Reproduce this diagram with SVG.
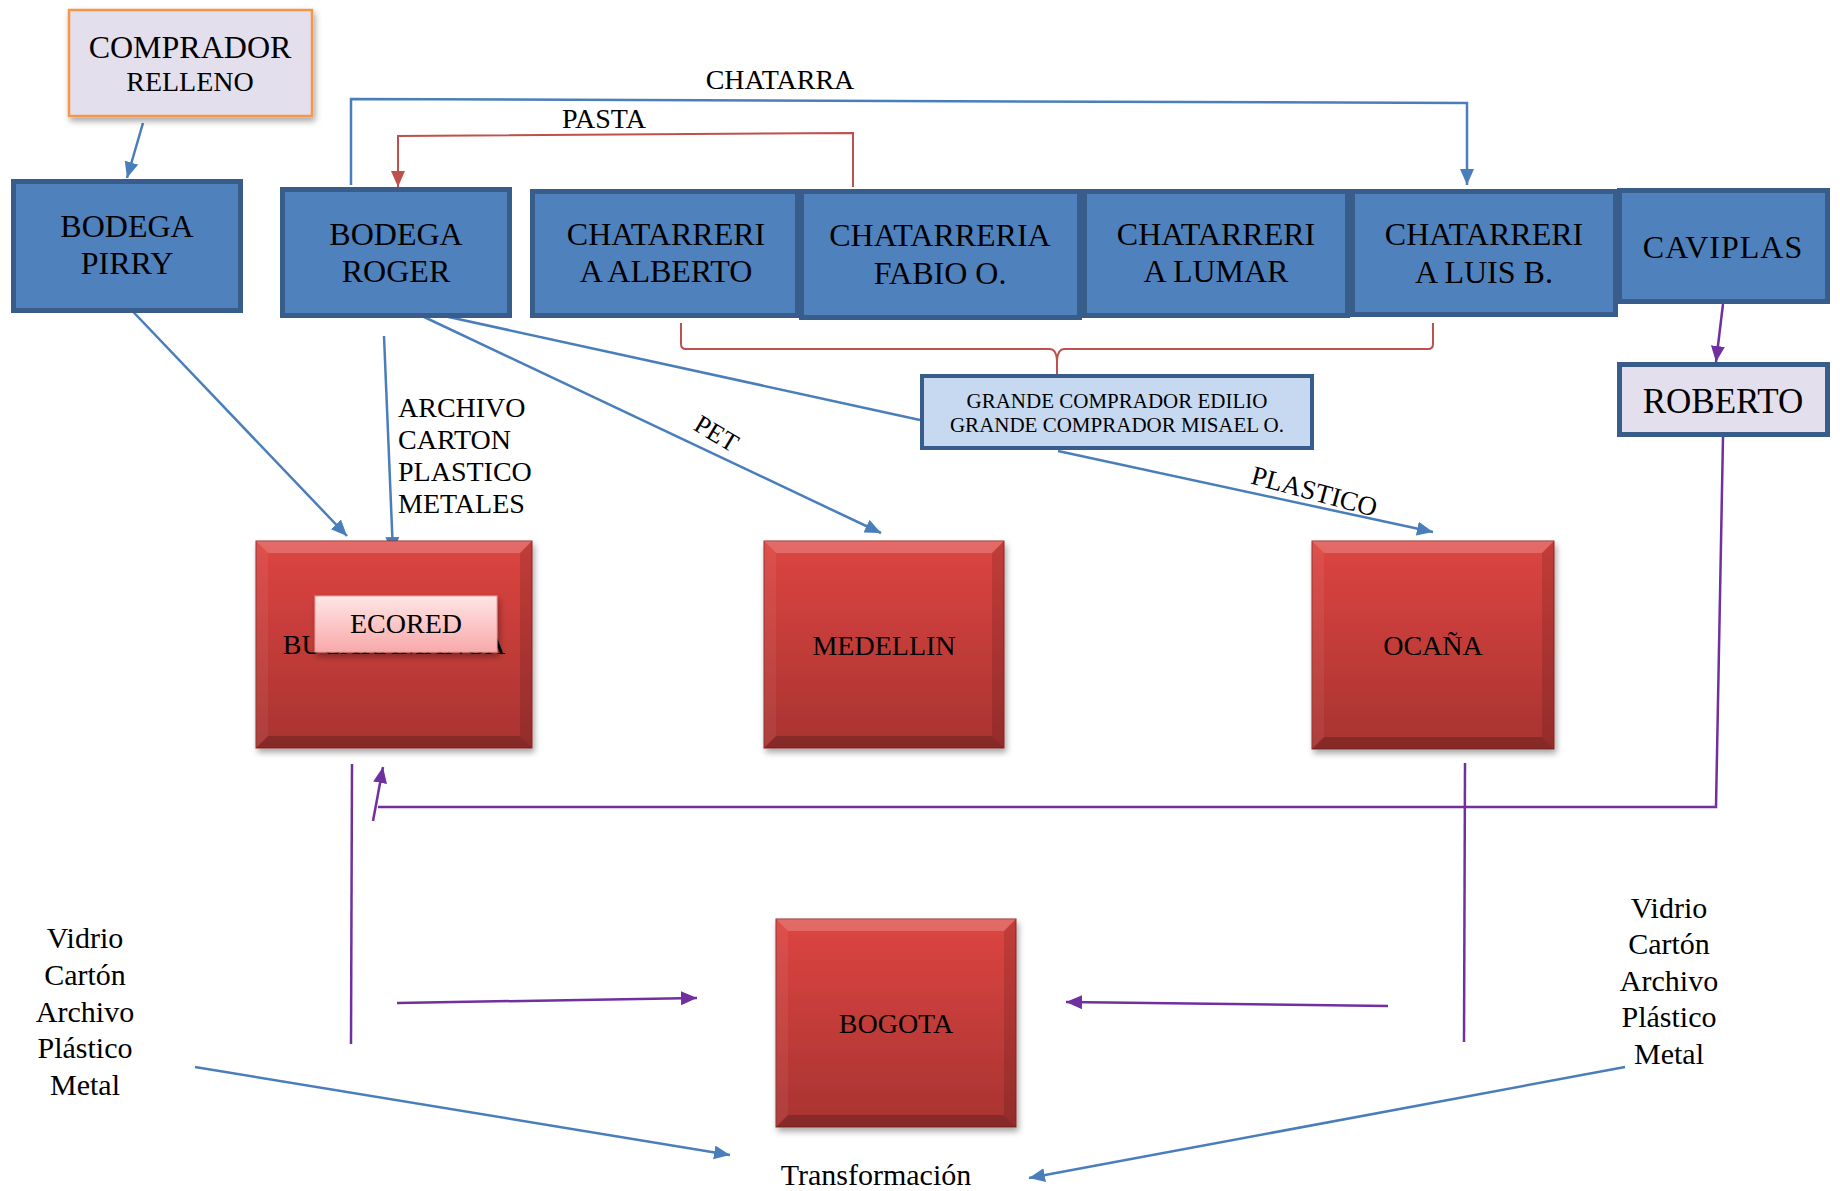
<svg xmlns="http://www.w3.org/2000/svg" width="1840" height="1191" viewBox="0 0 1840 1191">
<defs>
  <style>
    .t { font-family: "Liberation Serif", "Times New Roman", serif; fill: #000; }
    .c { text-anchor: middle; }
    .blue { fill: #4f81bd; stroke: #385d8a; stroke-width: 5; }
    .lb { fill: none; stroke: #4a7ebb; stroke-width: 2.5; }
    .lr { fill: none; stroke: #c0504d; stroke-width: 2; }
    .lp { fill: none; stroke: #7030a0; stroke-width: 2.5; }
    .hl { fill: #ffffff; }
    .dk { fill: #000000; }
  </style>
  <marker id="ab" markerUnits="userSpaceOnUse" markerWidth="18" markerHeight="16" refX="16" refY="7" orient="auto">
    <path d="M0,0 L16,7 L0,14 z" fill="#4a7ebb"/>
  </marker>
  <marker id="ar" markerUnits="userSpaceOnUse" markerWidth="18" markerHeight="16" refX="16" refY="7" orient="auto">
    <path d="M0,0 L16,7 L0,14 z" fill="#c0504d"/>
  </marker>
  <marker id="ap" markerUnits="userSpaceOnUse" markerWidth="18" markerHeight="16" refX="16" refY="7" orient="auto">
    <path d="M0,0 L16,7 L0,14 z" fill="#7030a0"/>
  </marker>
  <linearGradient id="redGrad" x1="0" y1="0" x2="0" y2="1">
    <stop offset="0" stop-color="#dd4541"/>
    <stop offset="1" stop-color="#a83331"/>
  </linearGradient>
  <linearGradient id="pinkGrad" x1="0" y1="0" x2="0" y2="1">
    <stop offset="0" stop-color="#fee6e6"/>
    <stop offset="1" stop-color="#f8a9a9"/>
  </linearGradient>
  <filter id="sh" x="-10%" y="-10%" width="130%" height="130%">
    <feDropShadow dx="2" dy="4" stdDeviation="3" flood-color="#000" flood-opacity="0.35"/>
  </filter>
</defs>
<rect width="1840" height="1191" fill="#ffffff"/>

<!-- connectors -->
<g id="connectors">
  <line class="lb" x1="143" y1="123" x2="127" y2="178" marker-end="url(#ab)"/>
  <polyline class="lb" points="351,185 351,99 1467,103 1467,185" marker-end="url(#ab)"/>
  <polyline class="lr" points="853,187 853,133 398,136 398,187" marker-end="url(#ar)"/>
  <path class="lr" d="M681,323 L681,344 Q681,349 686,349 L1050,349 Q1056,349 1057,360 L1057,376 M1057,360 Q1058,349 1064,349 L1428,349 Q1433,349 1433,344 L1433,323"/>
  <line class="lb" x1="120" y1="298" x2="347" y2="536" marker-end="url(#ab)"/>
  <line class="lb" x1="384" y1="336" x2="393" y2="553" marker-end="url(#ab)"/>
  <line class="lb" x1="403" y1="307" x2="881" y2="533" marker-end="url(#ab)"/>
  <line class="lb" x1="403" y1="307" x2="920" y2="420"/>
  <line class="lb" x1="1058" y1="451" x2="1433" y2="532" marker-end="url(#ab)"/>
  <line class="lp" x1="1723" y1="304" x2="1716" y2="362" marker-end="url(#ap)"/>
  <polyline class="lp" points="1723,437 1716,807 378,807"/>
  <line class="lp" x1="373" y1="821" x2="383" y2="767" marker-end="url(#ap)"/>
  <line class="lp" x1="352" y1="764" x2="351" y2="1044"/>
  <line class="lp" x1="1465" y1="763" x2="1464" y2="1042"/>
  <line class="lp" x1="397" y1="1003" x2="697" y2="998" marker-end="url(#ap)"/>
  <line class="lp" x1="1388" y1="1006" x2="1066" y2="1002" marker-end="url(#ap)"/>
  <line class="lb" x1="195" y1="1067" x2="730" y2="1155" marker-end="url(#ab)"/>
  <line class="lb" x1="1625" y1="1067" x2="1029" y2="1178" marker-end="url(#ab)"/>
  <text class="t c" x="780" y="89" font-size="28">CHATARRA</text>
  <text class="t c" x="604" y="128" font-size="28">PASTA</text>
  <text class="t" x="398" y="417" font-size="28">ARCHIVO</text>
  <text class="t" x="398" y="449" font-size="28">CARTON</text>
  <text class="t" x="398" y="481" font-size="28">PLASTICO</text>
  <text class="t" x="398" y="513" font-size="28">METALES</text>
  <text class="t c" x="0" y="0" font-size="26" transform="translate(712,441) rotate(31)">PET</text>
  <text class="t c" x="0" y="0" font-size="27" transform="translate(1312,500) rotate(15)">PLASTICO</text>
</g>

<g id="comprador-relleno">
  <rect x="69" y="10" width="243" height="106" fill="#e4dfec" stroke="#f79646" stroke-width="2.5" filter="url(#sh)"/>
  <text class="t c" x="190" y="58" font-size="32">COMPRADOR</text>
  <text class="t c" x="190" y="91" font-size="28">RELLENO</text>
</g>

<g id="bodega-pirry">
  <rect class="blue" x="13.5" y="181.5" width="227" height="129"/>
  <text class="t c" x="127" y="237" font-size="32">BODEGA</text>
  <text class="t c" x="127" y="274" font-size="32">PIRRY</text>
</g>

<g id="bodega-roger">
  <rect class="blue" x="282.5" y="189.5" width="227" height="126"/>
  <text class="t c" x="396" y="245" font-size="32">BODEGA</text>
  <text class="t c" x="396" y="282" font-size="32">ROGER</text>
</g>

<g id="chatarreria-alberto">
  <rect class="blue" x="532.5" y="191.5" width="265" height="124"/>
  <text class="t c" x="666" y="245" font-size="32">CHATARRERI</text>
  <text class="t c" x="666" y="282" font-size="32">A ALBERTO</text>
</g>

<g id="chatarreria-lumar">
  <rect class="blue" x="1084.5" y="191.5" width="263" height="124"/>
  <text class="t c" x="1216" y="245" font-size="32">CHATARRERI</text>
  <text class="t c" x="1216" y="282" font-size="32">A LUMAR</text>
</g>

<g id="chatarreria-luis">
  <rect class="blue" x="1352.5" y="191.5" width="263" height="123"/>
  <text class="t c" x="1484" y="245" font-size="32">CHATARRERI</text>
  <text class="t c" x="1484" y="283" font-size="32">A LUIS B.</text>
</g>

<g id="chatarreria-fabio">
  <rect class="blue" x="801.5" y="191.5" width="278" height="126"/>
  <text class="t c" x="940" y="246" font-size="32">CHATARRERIA</text>
  <text class="t c" x="940" y="284" font-size="32">FABIO O.</text>
</g>

<g id="caviplas">
  <rect class="blue" x="1619.5" y="190.5" width="208" height="111"/>
  <text class="t c" x="1723" y="258" font-size="32" letter-spacing="1">CAVIPLAS</text>
</g>

<g id="roberto">
  <rect x="1619.5" y="364.5" width="208" height="70" fill="#e4dfec" stroke="#385d8a" stroke-width="5"/>
  <text class="t c" x="1723" y="413" font-size="35">ROBERTO</text>
</g>

<g id="grande-comprador">
  <rect x="922" y="376" width="390" height="72" fill="#c6d9f1" stroke="#385d8a" stroke-width="4"/>
  <text class="t c" x="1117" y="408" font-size="21">GRANDE COMPRADOR EDILIO</text>
  <text class="t c" x="1117" y="432" font-size="21">GRANDE COMPRADOR MISAEL O.</text>
</g>

<g id="bucaramanga">
  <g transform="translate(256,541)">
    <rect width="276" height="207" fill="url(#redGrad)" stroke="#8f2b29" stroke-width="1" filter="url(#sh)"/>
    <polygon class="hl" opacity="0.2" points="0,0 276,0 264,12 12,12"/>
    <polygon class="hl" opacity="0.06" points="0,0 12,12 12,195 0,207"/>
    <polygon class="dk" opacity="0.12" points="276,0 276,207 264,195 264,12"/>
    <polygon class="dk" opacity="0.2" points="0,207 276,207 264,195 12,195"/>
  </g>
  <text class="t c" x="394" y="654" font-size="28">BUCARAMANGA</text>
</g>

<g id="ecored">
  <rect x="315" y="596" width="182" height="56" fill="url(#pinkGrad)" stroke="#e59a9a" stroke-width="1" filter="url(#sh)"/>
  <text class="t c" x="406" y="633" font-size="28">ECORED</text>
</g>

<g id="medellin">
  <g transform="translate(764,541)">
    <rect width="240" height="207" fill="url(#redGrad)" stroke="#8f2b29" stroke-width="1" filter="url(#sh)"/>
    <polygon class="hl" opacity="0.2" points="0,0 240,0 228,12 12,12"/>
    <polygon class="hl" opacity="0.06" points="0,0 12,12 12,195 0,207"/>
    <polygon class="dk" opacity="0.12" points="240,0 240,207 228,195 228,12"/>
    <polygon class="dk" opacity="0.2" points="0,207 240,207 228,195 12,195"/>
  </g>
  <text class="t c" x="884" y="655" font-size="28">MEDELLIN</text>
</g>

<g id="ocana">
  <g transform="translate(1312,541)">
    <rect width="242" height="208" fill="url(#redGrad)" stroke="#8f2b29" stroke-width="1" filter="url(#sh)"/>
    <polygon class="hl" opacity="0.2" points="0,0 242,0 230,12 12,12"/>
    <polygon class="hl" opacity="0.06" points="0,0 12,12 12,196 0,208"/>
    <polygon class="dk" opacity="0.12" points="242,0 242,208 230,196 230,12"/>
    <polygon class="dk" opacity="0.2" points="0,208 242,208 230,196 12,196"/>
  </g>
  <text class="t c" x="1433" y="655" font-size="28">OCAÑA</text>
</g>

<g id="bogota">
  <g transform="translate(776,919)">
    <rect width="240" height="208" fill="url(#redGrad)" stroke="#8f2b29" stroke-width="1" filter="url(#sh)"/>
    <polygon class="hl" opacity="0.2" points="0,0 240,0 228,12 12,12"/>
    <polygon class="hl" opacity="0.06" points="0,0 12,12 12,196 0,208"/>
    <polygon class="dk" opacity="0.12" points="240,0 240,208 228,196 228,12"/>
    <polygon class="dk" opacity="0.2" points="0,208 240,208 228,196 12,196"/>
  </g>
  <text class="t c" x="896" y="1033" font-size="28">BOGOTA</text>
</g>

<g id="materiales-izq">
  <text class="t c" x="85" y="948" font-size="30">Vidrio</text>
  <text class="t c" x="85" y="985" font-size="30">Cartón</text>
  <text class="t c" x="85" y="1022" font-size="30">Archivo</text>
  <text class="t c" x="85" y="1058" font-size="30">Plástico</text>
  <text class="t c" x="85" y="1095" font-size="30">Metal</text>
</g>

<g id="materiales-der">
  <text class="t c" x="1669" y="918" font-size="30">Vidrio</text>
  <text class="t c" x="1669" y="954" font-size="30">Cartón</text>
  <text class="t c" x="1669" y="991" font-size="30">Archivo</text>
  <text class="t c" x="1669" y="1027" font-size="30">Plástico</text>
  <text class="t c" x="1669" y="1064" font-size="30">Metal</text>
</g>

<g id="transformacion">
  <text class="t c" x="876" y="1185" font-size="30">Transformación</text>
</g>
</svg>
